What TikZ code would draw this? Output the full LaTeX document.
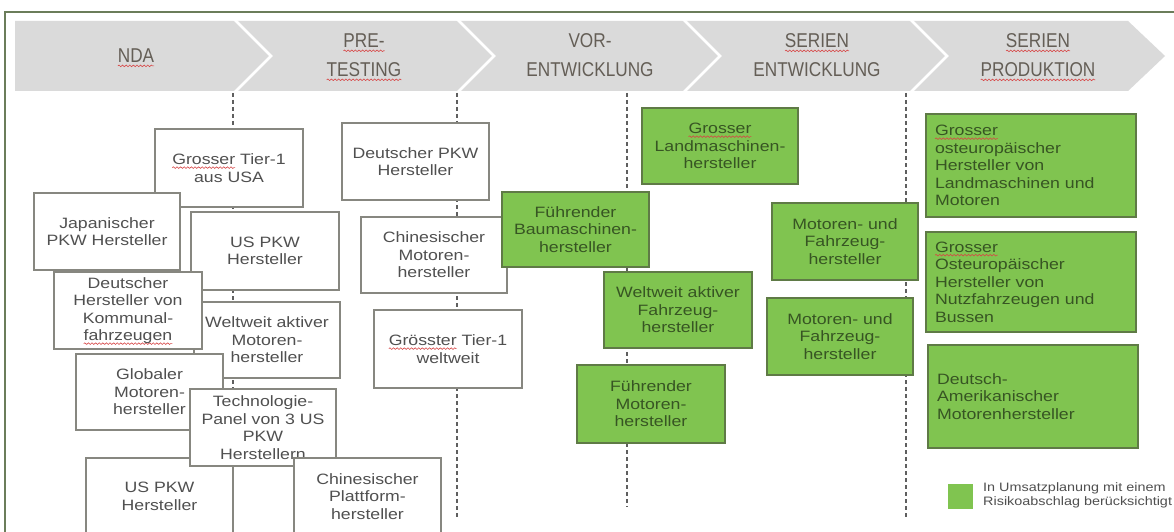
\documentclass[tikz,border=0pt]{standalone}
\usepackage{fontspec}
\setmainfont{Liberation Sans}
\newfontfamily\boxfont[FakeStretch=1.18]{Liberation Sans}
\newfontfamily\headfont[FakeStretch=0.86]{Liberation Sans}
\usetikzlibrary{decorations.pathmorphing}
\definecolor{framec}{RGB}{107,125,90}
\definecolor{bandc}{RGB}{218,218,218}
\definecolor{headtxt}{RGB}{100,94,86}
\definecolor{wborder}{RGB}{135,135,128}
\definecolor{wtext}{RGB}{80,80,80}
\definecolor{gfill}{RGB}{128,196,80}
\definecolor{gborder}{RGB}{95,122,70}
\definecolor{gtext}{RGB}{55,85,35}
\definecolor{dashc}{RGB}{95,95,95}
\definecolor{squigc}{RGB}{215,70,70}
\newlength\sqw
\newcommand\squig[1]{\settowidth\sqw{#1}\rlap{\tikz[overlay]\draw[squigc,line width=0.6pt,decorate,decoration={snake,segment length=3.6pt,amplitude=0.8pt}](0pt,-3pt)--(\sqw,-3pt);}#1}
\begin{document}
\begin{tikzpicture}[x=1pt,y=-1pt,
  wbox/.style={draw=wborder, line width=1.5pt, fill=white, text=wtext,
    font=\boxfont\fontsize{15}{17.5}\selectfont, align=center, inner sep=1pt},
  gbox/.style={draw=gborder, line width=1.5pt, fill=gfill, text=gtext,
    font=\boxfont\fontsize{15}{17.5}\selectfont, align=center, inner sep=1pt},
  glbox/.style={gbox, align=left, text width=192pt, inner xsep=9pt, minimum width=210pt},
  head/.style={text=headtxt, font=\headfont\fontsize{20}{29}\selectfont, align=center, inner sep=0pt},
  sepline/.style={white, line width=2.5pt},
  phase/.style={dashc, line width=1.1pt, dash pattern=on 4pt off 3pt},
  legtext/.style={text=wtext, font=\boxfont\fontsize{12.2}{14}\selectfont, align=left, inner sep=0pt, anchor=west}]
\useasboundingbox (0,0) rectangle (1174,532);
\clip (0,0) rectangle (1174,532);
\fill[white] (0,0) rectangle (1174,532);
% frame
\draw[framec, line width=2.2pt] (5,536) -- (5,12) -- (1178,12);
% chevron band
\fill[bandc] (15,21) -- (1128,21) -- (1165,56) -- (1128,91) -- (15,91) -- cycle;
\draw[sepline] (234,19) -- (271,56) -- (234,93);
\draw[sepline] (457,19) -- (494,56) -- (457,93);
\draw[sepline] (683,19) -- (720,56) -- (683,93);
\draw[sepline] (910,19) -- (947,56) -- (910,93);
% header labels
\node[head] (hnda) at (136,56) {\squig{NDA}};
\node[head] (hpre) at (364,55.5) {\squig{PRE-}\\\squig{TESTING}};
\node[head] (hvor) at (590,55.5) {VOR-\\ENTWICKLUNG};
\node[head] (hser) at (817,55.5) {\squig{SERIEN}\\ENTWICKLUNG};
\node[head] (hprod) at (1038,55.5) {\squig{SERIEN}\\\squig{PRODUKTION}};
% dashed phase lines
\coordinate (d1a) at (233,93); \coordinate (d1b) at (233,532);
\coordinate (d2a) at (457,93); \coordinate (d2b) at (457,517);
\coordinate (d3a) at (627,93); \coordinate (d3b) at (627,507);
\coordinate (d4a) at (906,93); \coordinate (d4b) at (906,518);
\draw[phase] (d1a) -- (d1b);
\draw[phase] (d2a) -- (d2b);
\draw[phase] (d3a) -- (d3b);
\draw[phase] (d4a) -- (d4b);
% white boxes, column 1
\node[wbox, minimum width=148pt, minimum height=78pt] (tier1) at (229,168) {\squig{Grosser} Tier-1\\aus USA};
\node[wbox, minimum width=146pt, minimum height=77pt] (jap) at (107,231.5) {Japanischer\\PKW Hersteller};
\node[wbox, minimum width=148pt, minimum height=78pt] (uspkwA) at (265,251) {US PKW\\Hersteller};
\node[wbox, minimum width=146pt, minimum height=76pt] (weltm) at (267,340) {Weltweit aktiver\\Motoren-\\hersteller};
\node[wbox, minimum width=148pt, minimum height=77pt] (kommunal) at (128,310.5) {Deutscher\\Hersteller von\\Kommunal-\\\squig{fahrzeugen}};
\node[wbox, minimum width=147pt, minimum height=76pt] (glob) at (149.5,392) {Globaler\\Motoren-\\hersteller};
\node[wbox, minimum width=147pt, minimum height=77pt] (uspkwB) at (159.5,496.5) {US PKW\\Hersteller};
\node[wbox, minimum width=146pt, minimum height=77pt] (tech) at (263,427.5) {Technologie-\\Panel von 3 US\\PKW\\Herstellern};
\node[wbox, minimum width=147pt, minimum height=77pt] (chplatt) at (367.5,496.5) {Chinesischer\\Plattform-\\hersteller};
% white boxes, column 2
\node[wbox, minimum width=147pt, minimum height=77pt] (dpkw) at (415.5,161.5) {Deutscher PKW\\Hersteller};
\node[wbox, minimum width=146pt, minimum height=76pt] (chmot) at (434,255) {Chinesischer\\Motoren-\\hersteller};
\node[wbox, minimum width=148pt, minimum height=78pt] (groesster) at (448,349) {\squig{Grösster} Tier-1\\weltweit};
% green boxes
\node[gbox, minimum width=147pt, minimum height=75pt] (baum) at (575.5,229.5) {Führender\\Baumaschinen-\\hersteller};
\node[gbox, minimum width=156pt, minimum height=76pt] (land) at (720,146) {\squig{Grosser}\\Landmaschinen-\\hersteller};
\node[gbox, minimum width=148pt, minimum height=76pt] (weltf) at (678,310) {Weltweit aktiver\\Fahrzeug-\\hersteller};
\node[gbox, minimum width=148pt, minimum height=78pt] (fmot) at (651,404) {Führender\\Motoren-\\hersteller};
\node[gbox, minimum width=146pt, minimum height=77pt] (mf1) at (845,241.5) {Motoren- und\\Fahrzeug-\\hersteller};
\node[gbox, minimum width=146pt, minimum height=77pt] (mf2) at (840,336.5) {Motoren- und\\Fahrzeug-\\hersteller};
\node[glbox, minimum height=103pt] (ost1) at (1031,165.5) {\squig{Grosser}\\osteuropäischer\\Hersteller von\\Landmaschinen und\\Motoren};
\node[glbox, minimum height=100pt] (ost2) at (1031,282) {\squig{Grosser}\\Osteuropäischer\\Hersteller von\\Nutzfahrzeugen und\\Bussen};
\node[glbox, minimum height=103pt] (dam) at (1033,396.5) {Deutsch-\\Amerikanischer\\Motorenhersteller};
% legend
\node[fill=gfill, minimum width=25pt, minimum height=25pt, inner sep=0pt] (legsq) at (960.5,496.5) {};
\node[legtext] (legtx) at (983,495) {In Umsatzplanung mit einem\\Risikoabschlag berücksichtigt};
\end{tikzpicture}
\end{document}
